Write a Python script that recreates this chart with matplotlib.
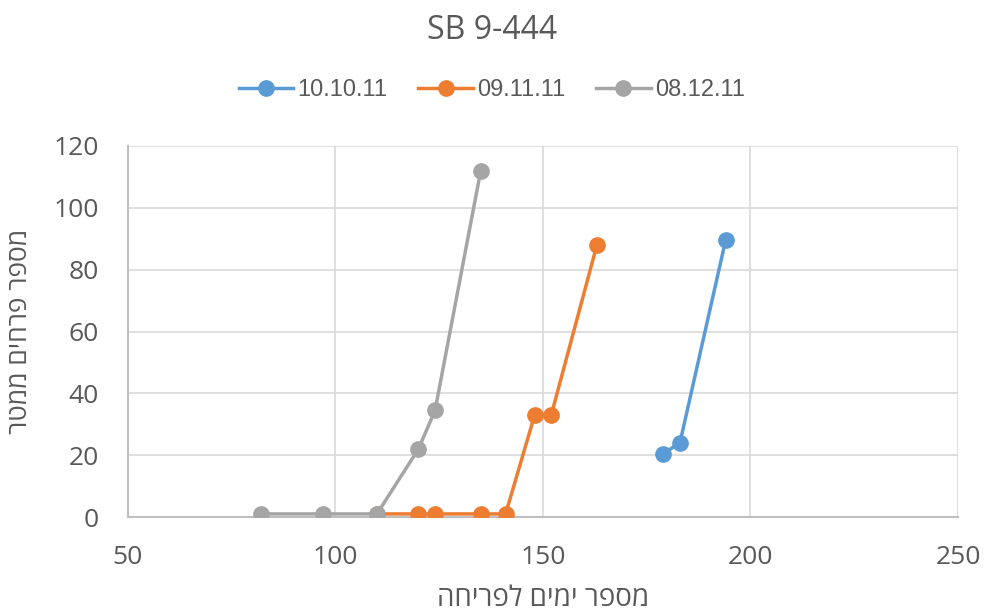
import matplotlib
matplotlib.use("Agg")
import matplotlib.pyplot as plt

# data
blue_x = [179, 183, 194]
blue_y = [20.5, 24, 89.5]
orange_x = [110, 120, 124, 135, 141, 148, 152, 163]
orange_y = [1, 1, 1, 1, 1, 33, 33, 88]
gray_x = [82, 97, 110, 120, 124, 135]
gray_y = [1, 1, 1, 22, 34.5, 112]
labels = ["10.10.11", "09.11.11", "08.12.11"]

title = "SB 9-444"
xlabel = "מספר ימים לפריחה"
ylabel = "מספר פרחים ממטר"

def rtl(s):
    # matplotlib has no bidi support, flip Hebrew by hand
    return s[::-1]

plt.rcParams['font.family'] = ['Open Sans', 'DejaVu Sans']
txt = '#595959'

fig = plt.figure(figsize=(9.84, 6.16), dpi=100)
ax = fig.add_axes([0.130, 0.1607, 0.8436, 0.6023])

ax.plot(blue_x, blue_y, '-o', color='#5B9BD5', lw=2.5, ms=11, label=labels[0], zorder=3)
ax.plot(orange_x, orange_y, '-o', color='#ED7D31', lw=2.5, ms=11, label=labels[1], zorder=3)
ax.plot(gray_x, gray_y, '-o', color='#A5A5A5', lw=2.5, ms=11, label=labels[2], zorder=4)

ax.set_xlim(50, 250)
ax.set_ylim(0, 120)
ax.set_xticks(range(50, 251, 50))
ax.set_yticks(range(0, 121, 20))
ax.grid(True, color='#D9D9D9', lw=1.2)
ax.set_axisbelow(True)
for s in ['top', 'right']:
    ax.spines[s].set_visible(False)
for s in ['left', 'bottom']:
    ax.spines[s].set_color('#BFBFBF')
    ax.spines[s].set_linewidth(1.5)
ax.tick_params(length=0, labelsize=19, labelcolor=txt)
ax.tick_params(axis='y', pad=21)
ax.tick_params(axis='x', pad=20)

ax.set_xlabel(rtl(xlabel), fontsize=20, color=txt, labelpad=11)
ax.set_ylabel(rtl(ylabel), fontsize=19, color=txt, labelpad=15)

fig.text(0.5, 0.951, title, ha='center', va='center', fontsize=23, color=txt)
fig.legend(loc='center', bbox_to_anchor=(0.5, 0.854),
           ncol=3, frameon=False, labelcolor=txt,
           prop={'family': 'Liberation Sans', 'size': 17},
           handlelength=2.3, handletextpad=0.2, columnspacing=1.3)

fig.savefig('out.png', dpi=100)
